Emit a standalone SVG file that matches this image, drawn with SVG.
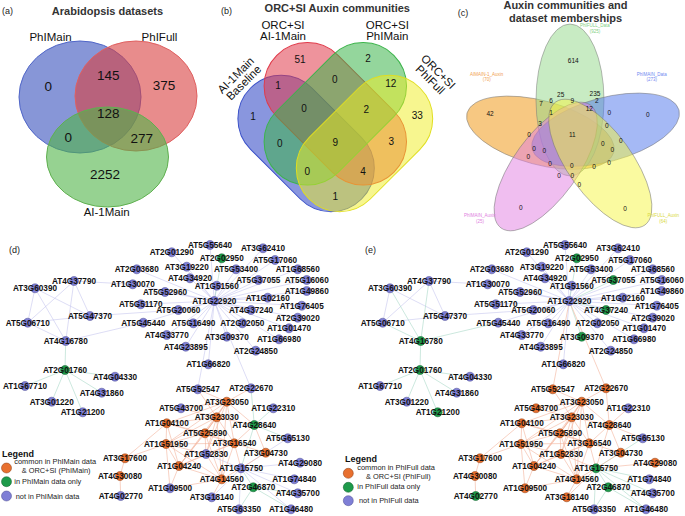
<svg xmlns="http://www.w3.org/2000/svg" width="685" height="516" viewBox="0 0 685 516">
<style>
text{font-family:"Liberation Sans",Arial,sans-serif}
.pl{font-size:9px;fill:#222}
.tt{font-size:11px;font-weight:bold;fill:#333;text-anchor:middle}
.va{font-size:11.5px;fill:#111;text-anchor:middle}
.na{font-size:13.5px;fill:#111;text-anchor:middle}
.nb{font-size:10px;fill:#111;text-anchor:middle}
.nc{font-size:6.5px;fill:#111;text-anchor:middle}
.cl{font-size:4.5px;text-anchor:middle}
.lb{font-size:8.2px;font-weight:bold;fill:#111;text-anchor:middle}
.lg{font-size:9px;font-weight:bold;fill:#111}
.lt{font-size:7.4px;fill:#222}
.p{fill:#7f7fd6;stroke:#4b4b8f;stroke-width:0.5}
.o{fill:#e8702f;stroke:#8a3a10;stroke-width:0.5}
.g{fill:#1e9a4a;stroke:#0d5a28;stroke-width:0.5}
.L{stroke:#c6c6ee;stroke-width:0.6}
.T{stroke:#a9d9c8;stroke-width:0.6}
.S{stroke:#f3b39c;stroke-width:0.6}
</style>

<!-- Panel a -->
<g id="panel_a">
<text class="pl" x="2" y="14">(a)</text>
<text class="tt" x="107.5" y="15.2">Arabidopsis datasets</text>
<ellipse id="a_PhIMain" cx="80" cy="97" rx="61" ry="56" fill="#3750bc" fill-opacity="0.6" stroke="#5066c8"/>
<ellipse id="a_PhIFull" cx="136" cy="96" rx="61" ry="55" fill="#d93f3f" fill-opacity="0.6" stroke="#e06060"/>
<ellipse id="a_AI1Main" cx="107.5" cy="157" rx="61" ry="50" fill="#50b448" fill-opacity="0.6" stroke="#60b050"/>
<text class="va" x="50.5" y="40.7">PhIMain</text>
<text class="va" x="159.5" y="40.7">PhIFull</text>
<text class="va" x="106.7" y="216">AI-1Main</text>
<text class="na" x="48.3" y="90.8">0</text>
<text class="na" x="108.3" y="79.8">145</text>
<text class="na" x="164" y="89.8">375</text>
<text class="na" x="108.3" y="117.5">128</text>
<text class="na" x="68.3" y="141.5">0</text>
<text class="na" x="141.7" y="143.1">277</text>
<text class="na" x="105" y="178.8">2252</text>
</g>

<!-- Panel b -->
<g id="panel_b">
<text class="pl" x="221" y="14">(b)</text>
<text class="tt" x="337.3" y="11.7">ORC+SI Auxin communities</text>
<rect id="b_baseline" x="227.6" y="100.15" width="157" height="86.7" rx="43.35" transform="rotate(45 306.1 143.5)" fill="#3a50c8" fill-opacity="0.6" stroke="#3a50c8"/>
<rect id="b_AI1Main" x="252.55" y="70.45" width="165.5" height="86.7" rx="43.35" transform="rotate(45 335.3 113.8)" fill="#e03a4a" fill-opacity="0.55" stroke="#e03a4a"/>
<rect id="b_PhIMain" x="252.55" y="70.45" width="165.5" height="86.7" rx="43.35" transform="rotate(-45 335.3 113.8)" fill="#3cb44b" fill-opacity="0.55" stroke="#3cb44b"/>
<rect id="b_PhIFull" x="286" y="100.15" width="157" height="86.7" rx="43.35" transform="rotate(-45 364.5 143.5)" fill="#f0ee20" fill-opacity="0.5" stroke="#e0de20"/>
<text class="va" x="283" y="29.3">ORC+SI</text>
<text class="va" x="283" y="40">AI-1Main</text>
<text class="va" x="387.3" y="29.3">ORC+SI</text>
<text class="va" x="387.3" y="40">PhIMain</text>
<text class="va" transform="translate(238.5 78) rotate(-45)">AI-1Main</text>
<text class="va" transform="translate(246.5 85.5) rotate(-45)">Baseline</text>
<text class="va" transform="translate(435.5 74.5) rotate(45)">ORC+SI</text>
<text class="va" transform="translate(427.5 82.5) rotate(45)">PhIFull</text>
<text class="nb" x="300" y="62.9">51</text>
<text class="nb" x="368" y="61.9">2</text>
<text class="nb" x="278" y="88.6">1</text>
<text class="nb" x="334.7" y="82.9">0</text>
<text class="nb" x="390.7" y="86.9">12</text>
<text class="nb" x="253" y="119.6">1</text>
<text class="nb" x="304" y="111.9">0</text>
<text class="nb" x="366.3" y="112.9">2</text>
<text class="nb" x="417.3" y="118.6">33</text>
<text class="nb" x="279.7" y="146.9">0</text>
<text class="nb" x="335.3" y="146.3">9</text>
<text class="nb" x="391.3" y="145.3">3</text>
<text class="nb" x="307.3" y="175.3">0</text>
<text class="nb" x="363" y="175.3">4</text>
<text class="nb" x="335.3" y="200.3">1</text>
</g>

<!-- Panel c -->
<g id="panel_c">
<text class="pl" x="457.7" y="16">(c)</text>
<text class="tt" x="565.5" y="9.3">Auxin communities and</text>
<text class="tt" x="565.5" y="21.5">dataset memberships</text>
<g stroke="#777" stroke-width="0.5">
<ellipse id="c_AIMAIN1_Auxin" cx="540.4" cy="132.7" rx="76" ry="32" transform="rotate(15 540.4 132.7)" fill="#ef9105" fill-opacity="0.5"/>
<ellipse id="c_PhIFULL_Data" cx="570" cy="100" rx="34" ry="76" fill="#91d787" fill-opacity="0.5"/>
<ellipse id="c_PhIMAIN_Data" cx="605.6" cy="129.7" rx="76" ry="32" transform="rotate(-15 605.6 129.7)" fill="#4b73eb" fill-opacity="0.5"/>
<ellipse id="c_PhIMAIN_Auxin" cx="545.7" cy="166.5" rx="76" ry="32" transform="rotate(-54 545.7 166.5)" fill="#e17de1" fill-opacity="0.5"/>
<ellipse id="c_PhIFULL_Auxin" cx="600.3" cy="163.5" rx="76" ry="32" transform="rotate(54 600.3 163.5)" fill="#f5f541" fill-opacity="0.5"/>
</g>
<text class="cl" x="595" y="27" fill="#7fd07f">PhIFULL_Data</text>
<text class="cl" x="595" y="32.5" fill="#7fd07f">(925)</text>
<text class="cl" x="486.7" y="75.5" fill="#f0a050">AIMAIN-1_Auxin</text>
<text class="cl" x="486.7" y="81" fill="#f0a050">(70)</text>
<text class="cl" x="651.7" y="75.5" fill="#7088f0">PhIMAIN_Data</text>
<text class="cl" x="651.7" y="81" fill="#7088f0">(273)</text>
<text class="cl" x="480" y="217" fill="#e080e0">PhIMAIN_Auxin</text>
<text class="cl" x="480" y="222.5" fill="#e080e0">(25)</text>
<text class="cl" x="663.3" y="217" fill="#d8d840">PhIFULL_Auxin</text>
<text class="cl" x="663.3" y="222.5" fill="#d8d840">(64)</text>
<text class="nc" x="573.3" y="63">614</text>
<text class="nc" x="560.7" y="96.6">25</text>
<text class="nc" x="595" y="96.3">235</text>
<text class="nc" x="541" y="105.6">7</text>
<text class="nc" x="551" y="103.3">6</text>
<text class="nc" x="572.3" y="103">9</text>
<text class="nc" x="596.7" y="103">2</text>
<text class="nc" x="490" y="115.6">42</text>
<text class="nc" x="551" y="114.6">1</text>
<text class="nc" x="589.3" y="111.3">12</text>
<text class="nc" x="609.3" y="114.6">0</text>
<text class="nc" x="647.7" y="117.3">0</text>
<text class="nc" x="540" y="126.3">3</text>
<text class="nc" x="606.7" y="128.3">0</text>
<text class="nc" x="529" y="137.3">0</text>
<text class="nc" x="572.3" y="137.3">11</text>
<text class="nc" x="602.7" y="145.6">0</text>
<text class="nc" x="620.7" y="143.3">0</text>
<text class="nc" x="534" y="151.3">0</text>
<text class="nc" x="544.3" y="153">0</text>
<text class="nc" x="612.3" y="152.3">0</text>
<text class="nc" x="528.3" y="159">0</text>
<text class="nc" x="609" y="164.6">0</text>
<text class="nc" x="550" y="165.6">0</text>
<text class="nc" x="571.7" y="168.3">0</text>
<text class="nc" x="594" y="169">0</text>
<text class="nc" x="559" y="178.3">0</text>
<text class="nc" x="572.3" y="178.3">0</text>
<text class="nc" x="579.3" y="187.3">0</text>
<text class="nc" x="520.7" y="209.6">0</text>
<text class="nc" x="625" y="210.6">0</text>
</g>

<text class="pl" x="9" y="253">(d)</text>
<text class="pl" x="365" y="253">(e)</text>

<!-- Panel d edges -->
<g id="d_edges">
<g class="L">
<line x1="214.3" y1="301" x2="171.7" y2="252.3"/><line x1="214.3" y1="301" x2="210" y2="245"/><line x1="214.3" y1="301" x2="263" y2="248.3"/><line x1="214.3" y1="301" x2="275" y2="260"/><line x1="214.3" y1="301" x2="186.7" y2="266.7"/><line x1="214.3" y1="301" x2="236" y2="269.3"/><line x1="214.3" y1="301" x2="297.7" y2="269.3"/><line x1="214.3" y1="301" x2="190" y2="278.3"/><line x1="214.3" y1="301" x2="258.3" y2="280"/><line x1="214.3" y1="301" x2="306.7" y2="280"/><line x1="214.3" y1="301" x2="216.7" y2="285.7"/><line x1="214.3" y1="301" x2="306.7" y2="291"/><line x1="214.3" y1="301" x2="165" y2="292"/><line x1="214.3" y1="301" x2="267.7" y2="297.7"/><line x1="214.3" y1="301" x2="301.7" y2="305.7"/><line x1="214.3" y1="301" x2="178.3" y2="310"/><line x1="214.3" y1="301" x2="251" y2="310"/><line x1="214.3" y1="301" x2="297.7" y2="317.7"/><line x1="214.3" y1="301" x2="193.3" y2="323.3"/><line x1="214.3" y1="301" x2="242.3" y2="323.3"/><line x1="214.3" y1="301" x2="289" y2="328.3"/><line x1="214.3" y1="301" x2="166.7" y2="335"/><line x1="214.3" y1="301" x2="226.7" y2="336.7"/><line x1="214.3" y1="301" x2="279" y2="339.3"/><line x1="214.3" y1="301" x2="185.7" y2="346.7"/><line x1="214.3" y1="301" x2="255.7" y2="350.7"/><line x1="214.3" y1="301" x2="208.3" y2="364.3"/><line x1="214.3" y1="301" x2="136.7" y2="269.3"/><line x1="214.3" y1="301" x2="132.7" y2="284.3"/><line x1="214.3" y1="301" x2="140.7" y2="304.3"/><line x1="214.3" y1="301" x2="143.3" y2="322.7"/><line x1="214.3" y1="301" x2="197.7" y2="389.3"/><line x1="214.3" y1="301" x2="251" y2="388.3"/>
<line x1="74" y1="281" x2="132.7" y2="284.3"/><line x1="90" y1="316" x2="178.3" y2="310"/><line x1="65.7" y1="341" x2="143.3" y2="322.7"/>
<line x1="35" y1="288.3" x2="27.7" y2="322.7"/><line x1="35" y1="288.3" x2="65.7" y2="341"/><line x1="35" y1="288.3" x2="90" y2="316"/><line x1="74" y1="281" x2="27.7" y2="322.7"/><line x1="74" y1="281" x2="65.7" y2="341"/><line x1="74" y1="281" x2="90" y2="316"/><line x1="27.7" y1="322.7" x2="90" y2="316"/><line x1="27.7" y1="322.7" x2="65.7" y2="341"/>
<line x1="241" y1="468.3" x2="300" y2="462.7"/><line x1="241" y1="468.3" x2="294.3" y2="479.3"/><line x1="241" y1="468.3" x2="297.7" y2="493.3"/><line x1="241" y1="468.3" x2="239" y2="509.3"/><line x1="241" y1="468.3" x2="291" y2="509.3"/><line x1="241" y1="468.3" x2="211.7" y2="497.3"/><line x1="241" y1="468.3" x2="206" y2="454"/><line x1="241" y1="468.3" x2="287.7" y2="438.3"/>
</g>
<g class="T">
<line x1="214.3" y1="301" x2="221.7" y2="258.3"/>
<line x1="65.7" y1="341" x2="65" y2="370"/><line x1="65" y1="370" x2="115" y2="376.7"/><line x1="65" y1="370" x2="25" y2="386"/><line x1="65" y1="370" x2="51.7" y2="401.7"/><line x1="65" y1="370" x2="101.7" y2="392.7"/><line x1="65" y1="370" x2="82.7" y2="412.3"/>
<line x1="241" y1="468.3" x2="254.3" y2="425"/><line x1="241" y1="468.3" x2="253.3" y2="487.3"/>
<line x1="254.3" y1="425" x2="273.3" y2="408.3"/><line x1="254.3" y1="425" x2="287.7" y2="438.3"/><line x1="254.3" y1="425" x2="251" y2="388.3"/>
<line x1="253.3" y1="487.3" x2="239" y2="509.3"/><line x1="253.3" y1="487.3" x2="297.7" y2="493.3"/><line x1="253.3" y1="487.3" x2="291" y2="509.3"/>
</g>
<g class="S">
<line x1="226.7" y1="401.7" x2="197.7" y2="389.3"/><line x1="226.7" y1="401.7" x2="251" y2="388.3"/><line x1="226.7" y1="401.7" x2="181" y2="408.3"/><line x1="226.7" y1="401.7" x2="216.7" y2="417.3"/><line x1="226.7" y1="401.7" x2="166.7" y2="423.3"/><line x1="226.7" y1="401.7" x2="205" y2="433.3"/><line x1="226.7" y1="401.7" x2="166" y2="444"/><line x1="226.7" y1="401.7" x2="234.3" y2="443.3"/><line x1="226.7" y1="401.7" x2="254.3" y2="425"/><line x1="226.7" y1="401.7" x2="206" y2="454"/><line x1="226.7" y1="401.7" x2="179" y2="466"/><line x1="226.7" y1="401.7" x2="221.7" y2="479.3"/>
<line x1="216.7" y1="417.3" x2="181" y2="408.3"/><line x1="216.7" y1="417.3" x2="166.7" y2="423.3"/><line x1="216.7" y1="417.3" x2="205" y2="433.3"/><line x1="216.7" y1="417.3" x2="166" y2="444"/><line x1="216.7" y1="417.3" x2="234.3" y2="443.3"/><line x1="216.7" y1="417.3" x2="254.3" y2="425"/><line x1="216.7" y1="417.3" x2="206" y2="454"/><line x1="216.7" y1="417.3" x2="179" y2="466"/><line x1="216.7" y1="417.3" x2="221.7" y2="479.3"/><line x1="216.7" y1="417.3" x2="197.7" y2="389.3"/>
<line x1="205" y1="433.3" x2="166.7" y2="423.3"/><line x1="205" y1="433.3" x2="166" y2="444"/><line x1="205" y1="433.3" x2="234.3" y2="443.3"/><line x1="205" y1="433.3" x2="179" y2="466"/><line x1="205" y1="433.3" x2="221.7" y2="479.3"/><line x1="205" y1="433.3" x2="206" y2="454"/>
<line x1="166" y1="444" x2="166.7" y2="423.3"/><line x1="166" y1="444" x2="179" y2="466"/><line x1="166" y1="444" x2="125" y2="458.3"/><line x1="166" y1="444" x2="221.7" y2="479.3"/><line x1="166" y1="444" x2="234.3" y2="443.3"/><line x1="166" y1="444" x2="206" y2="454"/><line x1="166" y1="444" x2="170" y2="488.3"/>
<line x1="166.7" y1="423.3" x2="125" y2="458.3"/><line x1="166.7" y1="423.3" x2="179" y2="466"/><line x1="166.7" y1="423.3" x2="234.3" y2="443.3"/>
<line x1="234.3" y1="443.3" x2="254.3" y2="425"/><line x1="234.3" y1="443.3" x2="241" y2="468.3"/><line x1="234.3" y1="443.3" x2="265.7" y2="452.7"/><line x1="234.3" y1="443.3" x2="221.7" y2="479.3"/><line x1="234.3" y1="443.3" x2="179" y2="466"/><line x1="234.3" y1="443.3" x2="206" y2="454"/>
<line x1="179" y1="466" x2="221.7" y2="479.3"/><line x1="179" y1="466" x2="170" y2="488.3"/><line x1="179" y1="466" x2="206" y2="454"/>
<line x1="221.7" y1="479.3" x2="241" y2="468.3"/><line x1="221.7" y1="479.3" x2="211.7" y2="497.3"/><line x1="221.7" y1="479.3" x2="206" y2="454"/><line x1="221.7" y1="479.3" x2="170" y2="488.3"/>
<line x1="241" y1="468.3" x2="265.7" y2="452.7"/><line x1="254.3" y1="425" x2="265.7" y2="452.7"/>
<line x1="125" y1="458.3" x2="120" y2="476"/><line x1="120" y1="476" x2="120.7" y2="496"/>
</g>
</g>

<!-- Panel e edges -->
<g id="e_edges" transform="translate(355 0)">
<g class="L">
<line x1="214.3" y1="301" x2="171.7" y2="252.3"/><line x1="214.3" y1="301" x2="210" y2="245"/><line x1="214.3" y1="301" x2="263" y2="248.3"/><line x1="214.3" y1="301" x2="275" y2="260"/><line x1="214.3" y1="301" x2="186.7" y2="266.7"/><line x1="214.3" y1="301" x2="236" y2="269.3"/><line x1="214.3" y1="301" x2="297.7" y2="269.3"/><line x1="214.3" y1="301" x2="190" y2="278.3"/><line x1="214.3" y1="301" x2="306.7" y2="280"/><line x1="214.3" y1="301" x2="216.7" y2="285.7"/><line x1="214.3" y1="301" x2="306.7" y2="291"/><line x1="214.3" y1="301" x2="165" y2="292"/><line x1="214.3" y1="301" x2="267.7" y2="297.7"/><line x1="214.3" y1="301" x2="301.7" y2="305.7"/><line x1="214.3" y1="301" x2="178.3" y2="310"/><line x1="214.3" y1="301" x2="297.7" y2="317.7"/><line x1="214.3" y1="301" x2="193.3" y2="323.3"/><line x1="214.3" y1="301" x2="242.3" y2="323.3"/><line x1="214.3" y1="301" x2="289" y2="328.3"/><line x1="214.3" y1="301" x2="166.7" y2="335"/><line x1="214.3" y1="301" x2="279" y2="339.3"/><line x1="214.3" y1="301" x2="185.7" y2="346.7"/><line x1="214.3" y1="301" x2="255.7" y2="350.7"/><line x1="214.3" y1="301" x2="208.3" y2="364.3"/><line x1="214.3" y1="301" x2="136.7" y2="269.3"/><line x1="214.3" y1="301" x2="132.7" y2="284.3"/><line x1="214.3" y1="301" x2="140.7" y2="304.3"/><line x1="214.3" y1="301" x2="143.3" y2="322.7"/>
<line x1="74" y1="281" x2="132.7" y2="284.3"/><line x1="90" y1="316" x2="178.3" y2="310"/>
<line x1="35" y1="288.3" x2="27.7" y2="322.7"/><line x1="35" y1="288.3" x2="90" y2="316"/><line x1="74" y1="281" x2="27.7" y2="322.7"/><line x1="74" y1="281" x2="90" y2="316"/><line x1="27.7" y1="322.7" x2="90" y2="316"/>
</g>
<g class="T">
<line x1="214.3" y1="301" x2="221.7" y2="258.3"/><line x1="214.3" y1="301" x2="258.3" y2="280"/><line x1="214.3" y1="301" x2="251" y2="310"/><line x1="214.3" y1="301" x2="226.7" y2="336.7"/>
<line x1="65.7" y1="341" x2="143.3" y2="322.7"/><line x1="35" y1="288.3" x2="65.7" y2="341"/><line x1="74" y1="281" x2="65.7" y2="341"/><line x1="27.7" y1="322.7" x2="65.7" y2="341"/>
<line x1="65.7" y1="341" x2="65" y2="370"/><line x1="65" y1="370" x2="115" y2="376.7"/><line x1="65" y1="370" x2="25" y2="386"/><line x1="65" y1="370" x2="51.7" y2="401.7"/><line x1="65" y1="370" x2="101.7" y2="392.7"/><line x1="65" y1="370" x2="82.7" y2="412.3"/>
<line x1="241" y1="468.3" x2="294.3" y2="479.3"/><line x1="241" y1="468.3" x2="297.7" y2="493.3"/><line x1="241" y1="468.3" x2="239" y2="509.3"/><line x1="241" y1="468.3" x2="291" y2="509.3"/><line x1="241" y1="468.3" x2="287.7" y2="438.3"/><line x1="241" y1="468.3" x2="253.3" y2="487.3"/>
<line x1="253.3" y1="487.3" x2="239" y2="509.3"/><line x1="253.3" y1="487.3" x2="297.7" y2="493.3"/><line x1="253.3" y1="487.3" x2="291" y2="509.3"/>
</g>
<g class="S">
<line x1="214.3" y1="301" x2="197.7" y2="389.3"/><line x1="214.3" y1="301" x2="251" y2="388.3"/>
<line x1="226.7" y1="401.7" x2="197.7" y2="389.3"/><line x1="226.7" y1="401.7" x2="251" y2="388.3"/><line x1="226.7" y1="401.7" x2="181" y2="408.3"/><line x1="226.7" y1="401.7" x2="216.7" y2="417.3"/><line x1="226.7" y1="401.7" x2="166.7" y2="423.3"/><line x1="226.7" y1="401.7" x2="205" y2="433.3"/><line x1="226.7" y1="401.7" x2="166" y2="444"/><line x1="226.7" y1="401.7" x2="234.3" y2="443.3"/><line x1="226.7" y1="401.7" x2="254.3" y2="425"/><line x1="226.7" y1="401.7" x2="206" y2="454"/><line x1="226.7" y1="401.7" x2="179" y2="466"/><line x1="226.7" y1="401.7" x2="221.7" y2="479.3"/>
<line x1="216.7" y1="417.3" x2="181" y2="408.3"/><line x1="216.7" y1="417.3" x2="166.7" y2="423.3"/><line x1="216.7" y1="417.3" x2="205" y2="433.3"/><line x1="216.7" y1="417.3" x2="166" y2="444"/><line x1="216.7" y1="417.3" x2="234.3" y2="443.3"/><line x1="216.7" y1="417.3" x2="254.3" y2="425"/><line x1="216.7" y1="417.3" x2="206" y2="454"/><line x1="216.7" y1="417.3" x2="179" y2="466"/><line x1="216.7" y1="417.3" x2="221.7" y2="479.3"/><line x1="216.7" y1="417.3" x2="197.7" y2="389.3"/>
<line x1="205" y1="433.3" x2="166.7" y2="423.3"/><line x1="205" y1="433.3" x2="166" y2="444"/><line x1="205" y1="433.3" x2="234.3" y2="443.3"/><line x1="205" y1="433.3" x2="179" y2="466"/><line x1="205" y1="433.3" x2="221.7" y2="479.3"/><line x1="205" y1="433.3" x2="206" y2="454"/>
<line x1="166" y1="444" x2="166.7" y2="423.3"/><line x1="166" y1="444" x2="179" y2="466"/><line x1="166" y1="444" x2="125" y2="458.3"/><line x1="166" y1="444" x2="221.7" y2="479.3"/><line x1="166" y1="444" x2="234.3" y2="443.3"/><line x1="166" y1="444" x2="206" y2="454"/><line x1="166" y1="444" x2="170" y2="488.3"/>
<line x1="166.7" y1="423.3" x2="125" y2="458.3"/><line x1="166.7" y1="423.3" x2="179" y2="466"/><line x1="166.7" y1="423.3" x2="234.3" y2="443.3"/>
<line x1="234.3" y1="443.3" x2="254.3" y2="425"/><line x1="234.3" y1="443.3" x2="241" y2="468.3"/><line x1="234.3" y1="443.3" x2="265.7" y2="452.7"/><line x1="234.3" y1="443.3" x2="221.7" y2="479.3"/><line x1="234.3" y1="443.3" x2="179" y2="466"/><line x1="234.3" y1="443.3" x2="206" y2="454"/>
<line x1="179" y1="466" x2="221.7" y2="479.3"/><line x1="179" y1="466" x2="170" y2="488.3"/><line x1="179" y1="466" x2="206" y2="454"/>
<line x1="221.7" y1="479.3" x2="241" y2="468.3"/><line x1="221.7" y1="479.3" x2="211.7" y2="497.3"/><line x1="221.7" y1="479.3" x2="206" y2="454"/><line x1="221.7" y1="479.3" x2="170" y2="488.3"/>
<line x1="241" y1="468.3" x2="265.7" y2="452.7"/><line x1="254.3" y1="425" x2="265.7" y2="452.7"/>
<line x1="241" y1="468.3" x2="254.3" y2="425"/><line x1="241" y1="468.3" x2="300" y2="462.7"/><line x1="241" y1="468.3" x2="211.7" y2="497.3"/><line x1="241" y1="468.3" x2="206" y2="454"/>
<line x1="254.3" y1="425" x2="273.3" y2="408.3"/><line x1="254.3" y1="425" x2="287.7" y2="438.3"/><line x1="254.3" y1="425" x2="251" y2="388.3"/>
<line x1="125" y1="458.3" x2="120" y2="476"/><line x1="120" y1="476" x2="120.7" y2="496"/>
</g>
</g>

<!-- Panel d nodes -->
<g id="d_nodes">
<g id="d_AT2G01290"><circle class="p" cx="171.7" cy="252.3" r="4.5"/><text class="lb" x="171.7" y="255.2">AT2G01290</text></g>
<g id="d_AT5G55640"><circle class="p" cx="210" cy="245" r="4.5"/><text class="lb" x="210" y="247.9">AT5G55640</text></g>
<g id="d_AT2G02950"><circle class="g" cx="221.7" cy="258.3" r="4.5"/><text class="lb" x="221.7" y="261.2">AT2G02950</text></g>
<g id="d_AT3G62410"><circle class="p" cx="263" cy="248.3" r="4.5"/><text class="lb" x="263" y="251.2">AT3G62410</text></g>
<g id="d_AT5G17060"><circle class="p" cx="275" cy="260" r="4.5"/><text class="lb" x="275" y="262.9">AT5G17060</text></g>
<g id="d_AT3G19220"><circle class="p" cx="186.7" cy="266.7" r="4.5"/><text class="lb" x="186.7" y="269.6">AT3G19220</text></g>
<g id="d_AT5G53400"><circle class="p" cx="236" cy="269.3" r="4.5"/><text class="lb" x="236" y="272.2">AT5G53400</text></g>
<g id="d_AT1G68560"><circle class="p" cx="297.7" cy="269.3" r="4.5"/><text class="lb" x="297.7" y="272.2">AT1G68560</text></g>
<g id="d_AT2G03680"><circle class="p" cx="136.7" cy="269.3" r="4.5"/><text class="lb" x="136.7" y="272.2">AT2G03680</text></g>
<g id="d_AT4G34920"><circle class="p" cx="190" cy="278.3" r="4.5"/><text class="lb" x="190" y="281.2">AT4G34920</text></g>
<g id="d_AT5G37055"><circle class="p" cx="258.3" cy="280" r="4.5"/><text class="lb" x="258.3" y="282.9">AT5G37055</text></g>
<g id="d_AT5G16060"><circle class="p" cx="306.7" cy="280" r="4.5"/><text class="lb" x="306.7" y="282.9">AT5G16060</text></g>
<g id="d_AT1G30070"><circle class="p" cx="132.7" cy="284.3" r="4.5"/><text class="lb" x="132.7" y="287.2">AT1G30070</text></g>
<g id="d_AT1G51560"><circle class="p" cx="216.7" cy="285.7" r="4.5"/><text class="lb" x="216.7" y="288.6">AT1G51560</text></g>
<g id="d_AT1G49860"><circle class="p" cx="306.7" cy="291" r="4.5"/><text class="lb" x="306.7" y="293.9">AT1G49860</text></g>
<g id="d_AT5G52960"><circle class="p" cx="165" cy="292" r="4.5"/><text class="lb" x="165" y="294.9">AT5G52960</text></g>
<g id="d_AT1G22920"><circle class="p" cx="214.3" cy="301" r="4.5"/><text class="lb" x="214.3" y="303.9">AT1G22920</text></g>
<g id="d_AT1G02160"><circle class="p" cx="267.7" cy="297.7" r="4.5"/><text class="lb" x="267.7" y="300.6">AT1G02160</text></g>
<g id="d_AT5G51170"><circle class="p" cx="140.7" cy="304.3" r="4.5"/><text class="lb" x="140.7" y="307.2">AT5G51170</text></g>
<g id="d_AT1G76405"><circle class="p" cx="301.7" cy="305.7" r="4.5"/><text class="lb" x="301.7" y="308.6">AT1G76405</text></g>
<g id="d_AT5G20060"><circle class="p" cx="178.3" cy="310" r="4.5"/><text class="lb" x="178.3" y="312.9">AT5G20060</text></g>
<g id="d_AT4G37240"><circle class="p" cx="251" cy="310" r="4.5"/><text class="lb" x="251" y="312.9">AT4G37240</text></g>
<g id="d_AT2G39020"><circle class="p" cx="297.7" cy="317.7" r="4.5"/><text class="lb" x="297.7" y="320.6">AT2G39020</text></g>
<g id="d_AT5G45440"><circle class="p" cx="143.3" cy="322.7" r="4.5"/><text class="lb" x="143.3" y="325.6">AT5G45440</text></g>
<g id="d_AT5G16490"><circle class="p" cx="193.3" cy="323.3" r="4.5"/><text class="lb" x="193.3" y="326.2">AT5G16490</text></g>
<g id="d_AT2G02050"><circle class="p" cx="242.3" cy="323.3" r="4.5"/><text class="lb" x="242.3" y="326.2">AT2G02050</text></g>
<g id="d_AT1G01470"><circle class="p" cx="289" cy="328.3" r="4.5"/><text class="lb" x="289" y="331.2">AT1G01470</text></g>
<g id="d_AT4G33770"><circle class="p" cx="166.7" cy="335" r="4.5"/><text class="lb" x="166.7" y="337.9">AT4G33770</text></g>
<g id="d_AT3G09370"><circle class="p" cx="226.7" cy="336.7" r="4.5"/><text class="lb" x="226.7" y="339.6">AT3G09370</text></g>
<g id="d_AT1G66980"><circle class="p" cx="279" cy="339.3" r="4.5"/><text class="lb" x="279" y="342.2">AT1G66980</text></g>
<g id="d_AT4G23895"><circle class="p" cx="185.7" cy="346.7" r="4.5"/><text class="lb" x="185.7" y="349.6">AT4G23895</text></g>
<g id="d_AT2G24850"><circle class="p" cx="255.7" cy="350.7" r="4.5"/><text class="lb" x="255.7" y="353.6">AT2G24850</text></g>
<g id="d_AT1G66820"><circle class="p" cx="208.3" cy="364.3" r="4.5"/><text class="lb" x="208.3" y="367.2">AT1G66820</text></g>
<g id="d_AT3G60390"><circle class="p" cx="35" cy="288.3" r="4.5"/><text class="lb" x="35" y="291.2">AT3G60390</text></g>
<g id="d_AT4G37790"><circle class="p" cx="74" cy="281" r="4.5"/><text class="lb" x="74" y="283.9">AT4G37790</text></g>
<g id="d_AT5G47370"><circle class="p" cx="90" cy="316" r="4.5"/><text class="lb" x="90" y="318.9">AT5G47370</text></g>
<g id="d_AT5G06710"><circle class="p" cx="27.7" cy="322.7" r="4.5"/><text class="lb" x="27.7" y="325.6">AT5G06710</text></g>
<g id="d_AT4G16780"><circle class="p" cx="65.7" cy="341" r="4.5"/><text class="lb" x="65.7" y="343.9">AT4G16780</text></g>
<g id="d_AT2G01760"><circle class="g" cx="65" cy="370" r="4.5"/><text class="lb" x="65" y="372.9">AT2G01760</text></g>
<g id="d_AT4G04330"><circle class="p" cx="115" cy="376.7" r="4.5"/><text class="lb" x="115" y="379.6">AT4G04330</text></g>
<g id="d_AT1G67710"><circle class="p" cx="25" cy="386" r="4.5"/><text class="lb" x="25" y="388.9">AT1G67710</text></g>
<g id="d_AT4G31860"><circle class="p" cx="101.7" cy="392.7" r="4.5"/><text class="lb" x="101.7" y="395.6">AT4G31860</text></g>
<g id="d_AT3G01220"><circle class="p" cx="51.7" cy="401.7" r="4.5"/><text class="lb" x="51.7" y="404.6">AT3G01220</text></g>
<g id="d_AT1G21200"><circle class="p" cx="82.7" cy="412.3" r="4.5"/><text class="lb" x="82.7" y="415.2">AT1G21200</text></g>
<g id="d_AT5G52547"><circle class="p" cx="197.7" cy="389.3" r="4.5"/><text class="lb" x="197.7" y="392.2">AT5G52547</text></g>
<g id="d_AT2G22670"><circle class="p" cx="251" cy="388.3" r="4.5"/><text class="lb" x="251" y="391.2">AT2G22670</text></g>
<g id="d_AT3G23050"><circle class="o" cx="226.7" cy="401.7" r="4.5"/><text class="lb" x="226.7" y="404.6">AT3G23050</text></g>
<g id="d_AT1G22310"><circle class="p" cx="273.3" cy="408.3" r="4.5"/><text class="lb" x="273.3" y="411.2">AT1G22310</text></g>
<g id="d_AT5G43700"><circle class="p" cx="181" cy="408.3" r="4.5"/><text class="lb" x="181" y="411.2">AT5G43700</text></g>
<g id="d_AT3G23030"><circle class="o" cx="216.7" cy="417.3" r="4.5"/><text class="lb" x="216.7" y="420.2">AT3G23030</text></g>
<g id="d_AT1G04100"><circle class="o" cx="166.7" cy="423.3" r="4.5"/><text class="lb" x="166.7" y="426.2">AT1G04100</text></g>
<g id="d_AT4G28640"><circle class="g" cx="254.3" cy="425" r="4.5"/><text class="lb" x="254.3" y="427.9">AT4G28640</text></g>
<g id="d_AT5G25890"><circle class="o" cx="205" cy="433.3" r="4.5"/><text class="lb" x="205" y="436.2">AT5G25890</text></g>
<g id="d_AT5G65130"><circle class="p" cx="287.7" cy="438.3" r="4.5"/><text class="lb" x="287.7" y="441.2">AT5G65130</text></g>
<g id="d_AT1G51950"><circle class="o" cx="166" cy="444" r="4.5"/><text class="lb" x="166" y="446.9">AT1G51950</text></g>
<g id="d_AT3G16540"><circle class="o" cx="234.3" cy="443.3" r="4.5"/><text class="lb" x="234.3" y="446.2">AT3G16540</text></g>
<g id="d_AT3G04730"><circle class="o" cx="265.7" cy="452.7" r="4.5"/><text class="lb" x="265.7" y="455.6">AT3G04730</text></g>
<g id="d_AT1G52830"><circle class="p" cx="206" cy="454" r="4.5"/><text class="lb" x="206" y="456.9">AT1G52830</text></g>
<g id="d_AT3G17600"><circle class="o" cx="125" cy="458.3" r="4.5"/><text class="lb" x="125" y="461.2">AT3G17600</text></g>
<g id="d_AT4G29080"><circle class="p" cx="300" cy="462.7" r="4.5"/><text class="lb" x="300" y="465.6">AT4G29080</text></g>
<g id="d_AT1G04240"><circle class="o" cx="179" cy="466" r="4.5"/><text class="lb" x="179" y="468.9">AT1G04240</text></g>
<g id="d_AT1G15750"><circle class="p" cx="241" cy="468.3" r="4.5"/><text class="lb" x="241" y="471.2">AT1G15750</text></g>
<g id="d_AT4G30080"><circle class="o" cx="120" cy="476" r="4.5"/><text class="lb" x="120" y="478.9">AT4G30080</text></g>
<g id="d_AT4G14560"><circle class="o" cx="221.7" cy="479.3" r="4.5"/><text class="lb" x="221.7" y="482.2">AT4G14560</text></g>
<g id="d_AT1G74840"><circle class="p" cx="294.3" cy="479.3" r="4.5"/><text class="lb" x="294.3" y="482.2">AT1G74840</text></g>
<g id="d_AT2G46870"><circle class="g" cx="253.3" cy="487.3" r="4.5"/><text class="lb" x="253.3" y="490.2">AT2G46870</text></g>
<g id="d_AT1G09500"><circle class="p" cx="170" cy="488.3" r="4.5"/><text class="lb" x="170" y="491.2">AT1G09500</text></g>
<g id="d_AT4G35700"><circle class="p" cx="297.7" cy="493.3" r="4.5"/><text class="lb" x="297.7" y="496.2">AT4G35700</text></g>
<g id="d_AT4G02770"><circle class="p" cx="120.7" cy="496" r="4.5"/><text class="lb" x="120.7" y="498.9">AT4G02770</text></g>
<g id="d_AT3G18140"><circle class="p" cx="211.7" cy="497.3" r="4.5"/><text class="lb" x="211.7" y="500.2">AT3G18140</text></g>
<g id="d_AT5G63350"><circle class="p" cx="239" cy="509.3" r="4.5"/><text class="lb" x="239" y="512.2">AT5G63350</text></g>
<g id="d_AT1G46480"><circle class="p" cx="291" cy="509.3" r="4.5"/><text class="lb" x="291" y="512.2">AT1G46480</text></g>
</g>

<!-- Panel e nodes -->
<g id="e_nodes" transform="translate(355 0)">
<g id="e_AT2G01290"><circle class="p" cx="171.7" cy="252.3" r="4.5"/><text class="lb" x="171.7" y="255.2">AT2G01290</text></g>
<g id="e_AT5G55640"><circle class="p" cx="210" cy="245" r="4.5"/><text class="lb" x="210" y="247.9">AT5G55640</text></g>
<g id="e_AT2G02950"><circle class="g" cx="221.7" cy="258.3" r="4.5"/><text class="lb" x="221.7" y="261.2">AT2G02950</text></g>
<g id="e_AT3G62410"><circle class="p" cx="263" cy="248.3" r="4.5"/><text class="lb" x="263" y="251.2">AT3G62410</text></g>
<g id="e_AT5G17060"><circle class="p" cx="275" cy="260" r="4.5"/><text class="lb" x="275" y="262.9">AT5G17060</text></g>
<g id="e_AT3G19220"><circle class="p" cx="186.7" cy="266.7" r="4.5"/><text class="lb" x="186.7" y="269.6">AT3G19220</text></g>
<g id="e_AT5G53400"><circle class="p" cx="236" cy="269.3" r="4.5"/><text class="lb" x="236" y="272.2">AT5G53400</text></g>
<g id="e_AT1G68560"><circle class="p" cx="297.7" cy="269.3" r="4.5"/><text class="lb" x="297.7" y="272.2">AT1G68560</text></g>
<g id="e_AT2G03680"><circle class="p" cx="136.7" cy="269.3" r="4.5"/><text class="lb" x="136.7" y="272.2">AT2G03680</text></g>
<g id="e_AT4G34920"><circle class="p" cx="190" cy="278.3" r="4.5"/><text class="lb" x="190" y="281.2">AT4G34920</text></g>
<g id="e_AT5G37055"><circle class="g" cx="258.3" cy="280" r="4.5"/><text class="lb" x="258.3" y="282.9">AT5G37055</text></g>
<g id="e_AT5G16060"><circle class="p" cx="306.7" cy="280" r="4.5"/><text class="lb" x="306.7" y="282.9">AT5G16060</text></g>
<g id="e_AT1G30070"><circle class="p" cx="132.7" cy="284.3" r="4.5"/><text class="lb" x="132.7" y="287.2">AT1G30070</text></g>
<g id="e_AT1G51560"><circle class="p" cx="216.7" cy="285.7" r="4.5"/><text class="lb" x="216.7" y="288.6">AT1G51560</text></g>
<g id="e_AT1G49860"><circle class="p" cx="306.7" cy="291" r="4.5"/><text class="lb" x="306.7" y="293.9">AT1G49860</text></g>
<g id="e_AT5G52960"><circle class="p" cx="165" cy="292" r="4.5"/><text class="lb" x="165" y="294.9">AT5G52960</text></g>
<g id="e_AT1G22920"><circle class="p" cx="214.3" cy="301" r="4.5"/><text class="lb" x="214.3" y="303.9">AT1G22920</text></g>
<g id="e_AT1G02160"><circle class="p" cx="267.7" cy="297.7" r="4.5"/><text class="lb" x="267.7" y="300.6">AT1G02160</text></g>
<g id="e_AT5G51170"><circle class="p" cx="140.7" cy="304.3" r="4.5"/><text class="lb" x="140.7" y="307.2">AT5G51170</text></g>
<g id="e_AT1G76405"><circle class="p" cx="301.7" cy="305.7" r="4.5"/><text class="lb" x="301.7" y="308.6">AT1G76405</text></g>
<g id="e_AT5G20060"><circle class="p" cx="178.3" cy="310" r="4.5"/><text class="lb" x="178.3" y="312.9">AT5G20060</text></g>
<g id="e_AT4G37240"><circle class="g" cx="251" cy="310" r="4.5"/><text class="lb" x="251" y="312.9">AT4G37240</text></g>
<g id="e_AT2G39020"><circle class="p" cx="297.7" cy="317.7" r="4.5"/><text class="lb" x="297.7" y="320.6">AT2G39020</text></g>
<g id="e_AT5G45440"><circle class="p" cx="143.3" cy="322.7" r="4.5"/><text class="lb" x="143.3" y="325.6">AT5G45440</text></g>
<g id="e_AT5G16490"><circle class="p" cx="193.3" cy="323.3" r="4.5"/><text class="lb" x="193.3" y="326.2">AT5G16490</text></g>
<g id="e_AT2G02050"><circle class="p" cx="242.3" cy="323.3" r="4.5"/><text class="lb" x="242.3" y="326.2">AT2G02050</text></g>
<g id="e_AT1G01470"><circle class="p" cx="289" cy="328.3" r="4.5"/><text class="lb" x="289" y="331.2">AT1G01470</text></g>
<g id="e_AT4G33770"><circle class="p" cx="166.7" cy="335" r="4.5"/><text class="lb" x="166.7" y="337.9">AT4G33770</text></g>
<g id="e_AT3G09370"><circle class="g" cx="226.7" cy="336.7" r="4.5"/><text class="lb" x="226.7" y="339.6">AT3G09370</text></g>
<g id="e_AT1G66980"><circle class="p" cx="279" cy="339.3" r="4.5"/><text class="lb" x="279" y="342.2">AT1G66980</text></g>
<g id="e_AT4G23895"><circle class="p" cx="185.7" cy="346.7" r="4.5"/><text class="lb" x="185.7" y="349.6">AT4G23895</text></g>
<g id="e_AT2G24850"><circle class="p" cx="255.7" cy="350.7" r="4.5"/><text class="lb" x="255.7" y="353.6">AT2G24850</text></g>
<g id="e_AT1G66820"><circle class="p" cx="208.3" cy="364.3" r="4.5"/><text class="lb" x="208.3" y="367.2">AT1G66820</text></g>
<g id="e_AT3G60390"><circle class="p" cx="35" cy="288.3" r="4.5"/><text class="lb" x="35" y="291.2">AT3G60390</text></g>
<g id="e_AT4G37790"><circle class="p" cx="74" cy="281" r="4.5"/><text class="lb" x="74" y="283.9">AT4G37790</text></g>
<g id="e_AT5G47370"><circle class="p" cx="90" cy="316" r="4.5"/><text class="lb" x="90" y="318.9">AT5G47370</text></g>
<g id="e_AT5G06710"><circle class="p" cx="27.7" cy="322.7" r="4.5"/><text class="lb" x="27.7" y="325.6">AT5G06710</text></g>
<g id="e_AT4G16780"><circle class="g" cx="65.7" cy="341" r="4.5"/><text class="lb" x="65.7" y="343.9">AT4G16780</text></g>
<g id="e_AT2G01760"><circle class="g" cx="65" cy="370" r="4.5"/><text class="lb" x="65" y="372.9">AT2G01760</text></g>
<g id="e_AT4G04330"><circle class="p" cx="115" cy="376.7" r="4.5"/><text class="lb" x="115" y="379.6">AT4G04330</text></g>
<g id="e_AT1G67710"><circle class="p" cx="25" cy="386" r="4.5"/><text class="lb" x="25" y="388.9">AT1G67710</text></g>
<g id="e_AT4G31860"><circle class="p" cx="101.7" cy="392.7" r="4.5"/><text class="lb" x="101.7" y="395.6">AT4G31860</text></g>
<g id="e_AT3G01220"><circle class="p" cx="51.7" cy="401.7" r="4.5"/><text class="lb" x="51.7" y="404.6">AT3G01220</text></g>
<g id="e_AT1G21200"><circle class="g" cx="82.7" cy="412.3" r="4.5"/><text class="lb" x="82.7" y="415.2">AT1G21200</text></g>
<g id="e_AT5G52547"><circle class="o" cx="197.7" cy="389.3" r="4.5"/><text class="lb" x="197.7" y="392.2">AT5G52547</text></g>
<g id="e_AT2G22670"><circle class="o" cx="251" cy="388.3" r="4.5"/><text class="lb" x="251" y="391.2">AT2G22670</text></g>
<g id="e_AT3G23050"><circle class="o" cx="226.7" cy="401.7" r="4.5"/><text class="lb" x="226.7" y="404.6">AT3G23050</text></g>
<g id="e_AT1G22310"><circle class="p" cx="273.3" cy="408.3" r="4.5"/><text class="lb" x="273.3" y="411.2">AT1G22310</text></g>
<g id="e_AT5G43700"><circle class="o" cx="181" cy="408.3" r="4.5"/><text class="lb" x="181" y="411.2">AT5G43700</text></g>
<g id="e_AT3G23030"><circle class="o" cx="216.7" cy="417.3" r="4.5"/><text class="lb" x="216.7" y="420.2">AT3G23030</text></g>
<g id="e_AT1G04100"><circle class="o" cx="166.7" cy="423.3" r="4.5"/><text class="lb" x="166.7" y="426.2">AT1G04100</text></g>
<g id="e_AT4G28640"><circle class="o" cx="254.3" cy="425" r="4.5"/><text class="lb" x="254.3" y="427.9">AT4G28640</text></g>
<g id="e_AT5G25890"><circle class="o" cx="205" cy="433.3" r="4.5"/><text class="lb" x="205" y="436.2">AT5G25890</text></g>
<g id="e_AT5G65130"><circle class="p" cx="287.7" cy="438.3" r="4.5"/><text class="lb" x="287.7" y="441.2">AT5G65130</text></g>
<g id="e_AT1G51950"><circle class="o" cx="166" cy="444" r="4.5"/><text class="lb" x="166" y="446.9">AT1G51950</text></g>
<g id="e_AT3G16540"><circle class="o" cx="234.3" cy="443.3" r="4.5"/><text class="lb" x="234.3" y="446.2">AT3G16540</text></g>
<g id="e_AT3G04730"><circle class="o" cx="265.7" cy="452.7" r="4.5"/><text class="lb" x="265.7" y="455.6">AT3G04730</text></g>
<g id="e_AT1G52830"><circle class="o" cx="206" cy="454" r="4.5"/><text class="lb" x="206" y="456.9">AT1G52830</text></g>
<g id="e_AT3G17600"><circle class="o" cx="125" cy="458.3" r="4.5"/><text class="lb" x="125" y="461.2">AT3G17600</text></g>
<g id="e_AT4G29080"><circle class="o" cx="300" cy="462.7" r="4.5"/><text class="lb" x="300" y="465.6">AT4G29080</text></g>
<g id="e_AT1G04240"><circle class="o" cx="179" cy="466" r="4.5"/><text class="lb" x="179" y="468.9">AT1G04240</text></g>
<g id="e_AT1G15750"><circle class="g" cx="241" cy="468.3" r="4.5"/><text class="lb" x="241" y="471.2">AT1G15750</text></g>
<g id="e_AT4G30080"><circle class="o" cx="120" cy="476" r="4.5"/><text class="lb" x="120" y="478.9">AT4G30080</text></g>
<g id="e_AT4G14560"><circle class="o" cx="221.7" cy="479.3" r="4.5"/><text class="lb" x="221.7" y="482.2">AT4G14560</text></g>
<g id="e_AT1G74840"><circle class="p" cx="294.3" cy="479.3" r="4.5"/><text class="lb" x="294.3" y="482.2">AT1G74840</text></g>
<g id="e_AT2G46870"><circle class="g" cx="253.3" cy="487.3" r="4.5"/><text class="lb" x="253.3" y="490.2">AT2G46870</text></g>
<g id="e_AT1G09500"><circle class="o" cx="170" cy="488.3" r="4.5"/><text class="lb" x="170" y="491.2">AT1G09500</text></g>
<g id="e_AT4G35700"><circle class="p" cx="297.7" cy="493.3" r="4.5"/><text class="lb" x="297.7" y="496.2">AT4G35700</text></g>
<g id="e_AT4G02770"><circle class="g" cx="120.7" cy="496" r="4.5"/><text class="lb" x="120.7" y="498.9">AT4G02770</text></g>
<g id="e_AT3G18140"><circle class="o" cx="211.7" cy="497.3" r="4.5"/><text class="lb" x="211.7" y="500.2">AT3G18140</text></g>
<g id="e_AT5G63350"><circle class="p" cx="239" cy="509.3" r="4.5"/><text class="lb" x="239" y="512.2">AT5G63350</text></g>
<g id="e_AT1G46480"><circle class="p" cx="291" cy="509.3" r="4.5"/><text class="lb" x="291" y="512.2">AT1G46480</text></g>
</g>

<!-- Legends -->
<g id="d_legend">
<text class="lg" x="2" y="456.7">Legend</text>
<circle class="o" cx="6.5" cy="468" r="5"/>
<circle class="g" cx="6.5" cy="481.7" r="5"/>
<circle class="p" cx="6.5" cy="496" r="5"/>
<text class="lt" x="14.3" y="464.3">common in PhIMain data</text>
<text class="lt" x="21.7" y="473.3">&amp; ORC+SI (PhIMain)</text>
<text class="lt" x="14.3" y="484.3">in PhIMain data only</text>
<text class="lt" x="15.7" y="498.7">not in PhIMain data</text>
</g>
<g id="e_legend">
<text class="lg" x="345" y="462.3">Legend</text>
<circle class="o" cx="348.3" cy="473.3" r="5"/>
<circle class="g" cx="348.3" cy="487.3" r="5"/>
<circle class="p" cx="348.3" cy="500.7" r="5"/>
<text class="lt" x="357.3" y="470">common in PhIFull data</text>
<text class="lt" x="366" y="479">&amp; ORC+SI (PhIFull)</text>
<text class="lt" x="357.3" y="489.3">in PhIFull data only</text>
<text class="lt" x="359" y="502.7">not in PhIFull data</text>
</g>
</svg>
